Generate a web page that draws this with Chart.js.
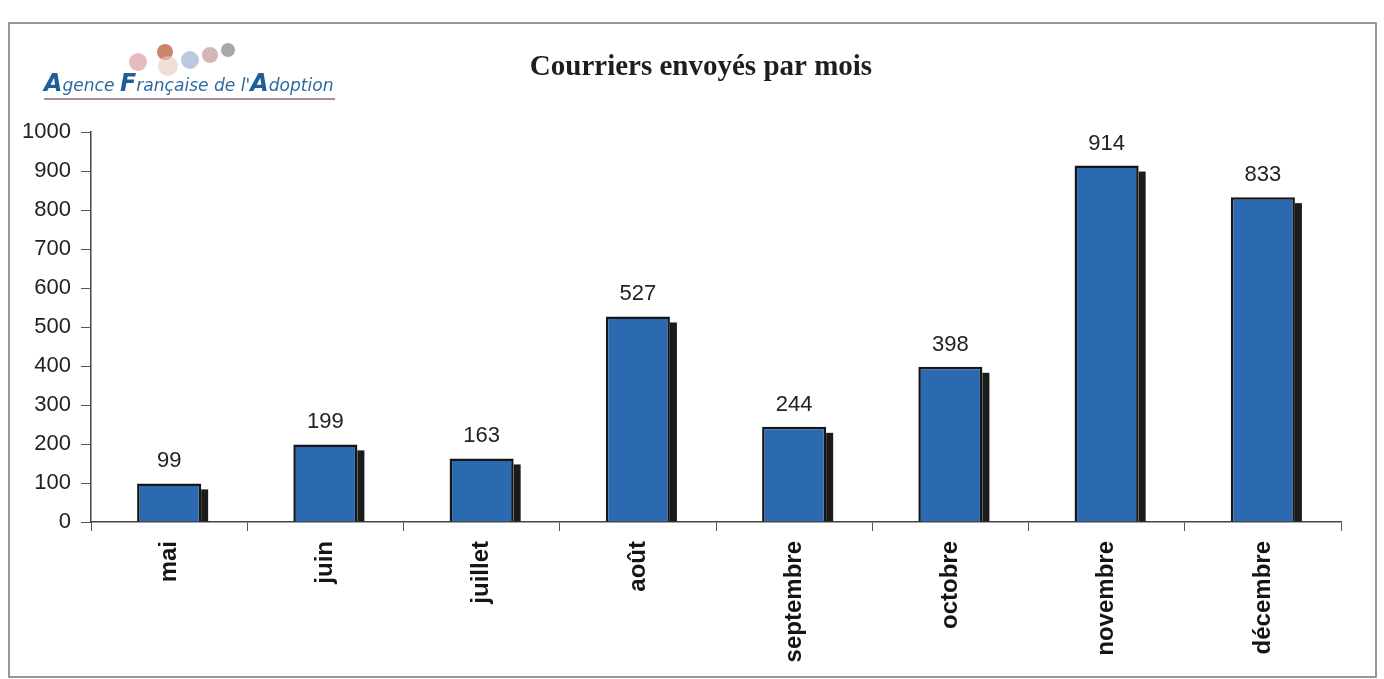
<!DOCTYPE html>
<html lang="fr">
<head>
<meta charset="utf-8">
<title>Courriers envoyés par mois</title>
<script src="https://cdn.jsdelivr.net/npm/chart.js@4.4.1/dist/chart.umd.min.js"></script>
<style>
  html, body { margin: 0; padding: 0; background: #fff; }
  #wrap { position: relative; width: 1384px; height: 679px; }
</style>
</head>
<body>
<div id="wrap"><canvas id="mailChart" width="1384" height="679"></canvas></div>
<script>
// Data
const months = ['mai', 'juin', 'juillet', 'août', 'septembre', 'octobre', 'novembre', 'décembre'];
const courriers = [99, 199, 163, 527, 244, 398, 914, 833];
const yMax = 1000;
const yStep = 100;
const chartTitle = 'Courriers envoyés par mois';

const SANS = '"Liberation Sans", Arial, sans-serif';

// Frame, logo and title
const framePlugin = {
  id: 'frame',
  afterDraw(chart) {
    const ctx = chart.ctx;
    ctx.save();
    // outer frame
    ctx.strokeStyle = '#777';
    ctx.lineWidth = 1.5;
    ctx.strokeRect(9, 23, 1367, 654);

    // logo (text)
    const parts = [
      ['A', 'italic bold 25px "DejaVu Sans", sans-serif', '#1d5f9a'],
      ['gence ', 'italic 18px "DejaVu Sans", sans-serif', '#2f6a9e'],
      ['F', 'italic bold 25px "DejaVu Sans", sans-serif', '#1d5f9a'],
      ['rançaise de l\'', 'italic 18px "DejaVu Sans", sans-serif', '#2f6a9e'],
      ['A', 'italic bold 25px "DejaVu Sans", sans-serif', '#1d5f9a'],
      ['doption', 'italic 18px "DejaVu Sans", sans-serif', '#2f6a9e']
    ];
    ctx.textBaseline = 'alphabetic';
    ctx.textAlign = 'left';
    ctx.save();
    ctx.translate(44, 91);
    ctx.scale(0.95, 1);
    let dx = 0;
    parts.forEach(([txt, font, color]) => {
      ctx.font = font;
      ctx.fillStyle = color;
      ctx.fillText(txt, dx, 0);
      dx += ctx.measureText(txt).width;
    });
    ctx.restore();
    ctx.strokeStyle = '#8c6a6a';
    ctx.lineWidth = 1.5;
    ctx.beginPath();
    ctx.moveTo(44, 99);
    ctx.lineTo(335, 99);
    ctx.stroke();

    // small picture above logo
    const blobs = [
      [138, 62, 9, 'rgba(200,120,130,0.5)'],
      [165, 52, 8, 'rgba(190,90,60,0.75)'],
      [168, 66, 10, 'rgba(230,200,190,0.6)'],
      [190, 60, 9, 'rgba(120,150,190,0.5)'],
      [210, 55, 8, 'rgba(170,110,110,0.5)'],
      [228, 50, 7, 'rgba(110,110,110,0.6)']
    ];
    blobs.forEach(([bx, by, r, c]) => {
      ctx.fillStyle = c;
      ctx.beginPath();
      ctx.arc(bx, by, r, 0, Math.PI * 2);
      ctx.fill();
    });

    // title
    ctx.font = 'bold 29px "Liberation Serif", "Times New Roman", serif';
    ctx.fillStyle = '#1e1e1e';
    ctx.textAlign = 'center';
    ctx.fillText(chartTitle, 701, 75);
    ctx.restore();
  }
};

// Dark shadow on the right side of each bar
const barShadowPlugin = {
  id: 'barShadow',
  beforeDatasetsDraw(chart) {
    const ctx = chart.ctx;
    const meta = chart.getDatasetMeta(0);
    ctx.save();
    ctx.fillStyle = '#1b1b1b';
    meta.data.forEach(bar => {
      const { x, y, base, width } = bar.getProps(['x', 'y', 'base', 'width'], true);
      ctx.fillRect(x + width / 2, y + 6, 7, base - y - 6);
    });
    ctx.restore();
  }
};

// Value labels above bars
const valueLabelPlugin = {
  id: 'valueLabels',
  afterDatasetsDraw(chart) {
    const ctx = chart.ctx;
    const meta = chart.getDatasetMeta(0);
    ctx.save();
    ctx.font = '22px ' + SANS;
    ctx.fillStyle = '#222';
    ctx.textAlign = 'center';
    ctx.textBaseline = 'alphabetic';
    meta.data.forEach((bar, i) => {
      ctx.fillText(String(courriers[i]), bar.x, bar.y - 16);
    });
    ctx.restore();
  }
};

const chart = new Chart(document.getElementById('mailChart'), {
  type: 'bar',
  data: {
    labels: months,
    datasets: [{
      label: 'Courriers',
      data: courriers,
      backgroundColor: '#2b69b0',
      borderColor: '#161616',
      borderWidth: 2.5,
      borderSkipped: 'bottom',
      barPercentage: 0.41,
      categoryPercentage: 1
    }]
  },
  options: {
    responsive: false,
    animation: false,
    devicePixelRatio: 1,
    layout: { padding: { top: 132, right: 43, left: 0, bottom: 0 } },
    plugins: {
      legend: { display: false },
      title: { display: false },
      tooltip: { enabled: false }
    },
    scales: {
      y: {
        min: 0,
        max: yMax,
        ticks: {
          stepSize: yStep,
          font: { size: 22, family: SANS },
          color: '#222',
          padding: 10,
          callback: value => String(value)
        },
        grid: { drawOnChartArea: false, tickLength: 10, color: '#555' },
        border: { color: '#444', width: 1.5 },
        afterFit: scale => { scale.width = 91; }
      },
      x: {
        ticks: {
          maxRotation: 90,
          minRotation: 90,
          font: { size: 24, weight: 'bold', family: SANS },
          color: '#151515',
          padding: 10
        },
        grid: { offset: true, drawOnChartArea: false, tickLength: 9, color: '#555' },
        border: { color: '#444', width: 1.5 },
        afterFit: scale => { scale.height = 157; }
      }
    }
  },
  plugins: [framePlugin, barShadowPlugin, valueLabelPlugin]
});
</script>
</body>
</html>
